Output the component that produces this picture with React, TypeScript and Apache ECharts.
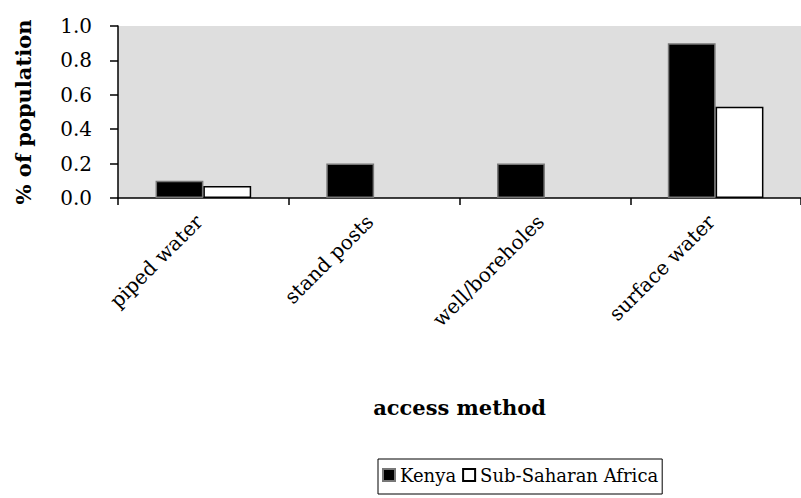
import React, { useEffect, useRef } from "react";
import * as echarts from "echarts";

const categories = ["piped water", "stand posts", "well/boreholes", "surface water"];
const kenya = [0.1, 0.2, 0.2, 0.9];
const ssa = [0.07, null, null, 0.53];
const yTicks = [0, 0.2, 0.4, 0.6, 0.8, 1.0];

const FONT = "'DejaVu Serif', 'Liberation Serif', serif";

export default function App() {
  const ref = useRef<HTMLDivElement>(null);
  useEffect(() => {
    const chart = echarts.init(ref.current!, null, { renderer: "svg" });
    chart.setOption({
      animation: false,
      textStyle: { fontFamily: FONT },
      grid: {
        left: 118,
        top: 26,
        width: 688,
        height: 172,
        show: true,
        backgroundColor: "#dedede",
        borderWidth: 0,
      },
      legend: {
        left: 378,
        top: 459,
        icon: "rect",
        itemWidth: 12,
        itemHeight: 12,
        itemGap: 6,
        padding: [7, 4, 10, 4],
        borderColor: "#000",
        borderWidth: 1,
        textStyle: { fontFamily: FONT, fontSize: 18, color: "#000" },
        data: ["Kenya", "Sub-Saharan Africa"],
      },
      xAxis: {
        type: "category",
        data: categories,
        name: "access method",
        nameLocation: "middle",
        nameGap: 199,
        nameTextStyle: { fontFamily: FONT, fontSize: 21, fontWeight: "bold", color: "#000" },
        axisLine: { lineStyle: { color: "#000", width: 1.5 } },
        axisTick: { show: true, length: 7, alignWithLabel: false, interval: 0, lineStyle: { color: "#000", width: 1.5 } },
        axisLabel: {
          rotate: 45,
          margin: 16,
          interval: 0,
          padding: [0, 6, 0, 0],
          fontFamily: FONT,
          fontSize: 20,
          color: "#000",
        },
      },
      yAxis: {
        type: "value",
        min: 0,
        max: 1,
        interval: 0.2,
        name: "% of population",
        nameLocation: "middle",
        nameGap: 84,
        nameTextStyle: { fontFamily: FONT, fontSize: 21, fontWeight: "bold", color: "#000" },
        axisLine: { show: true, lineStyle: { color: "#000", width: 1.5 } },
        axisTick: { show: true, length: 8, lineStyle: { color: "#000", width: 1.5 } },
        splitLine: { show: false },
        axisLabel: {
          fontFamily: FONT,
          fontSize: 20,
          color: "#000",
          margin: 26,
          formatter: (v: number) => (yTicks.includes(v) ? v.toFixed(1) : ""),
        },
      },
      series: [
        {
          name: "Kenya",
          type: "bar",
          data: kenya,
          barGap: "0%",
          barCategoryGap: "44%",
          itemStyle: { color: "#000", borderColor: "#777", borderWidth: 1.5 },
        },
        {
          name: "Sub-Saharan Africa",
          type: "bar",
          data: ssa,
          itemStyle: { color: "#fff", borderColor: "#000", borderWidth: 1.5 },
        },
      ],
    });
    return () => chart.dispose();
  }, []);
  return (
    <div
      ref={ref}
      style={{ position: "fixed", left: 0, top: 0, width: 801, height: 498, background: "#fff" }}
    />
  );
}
